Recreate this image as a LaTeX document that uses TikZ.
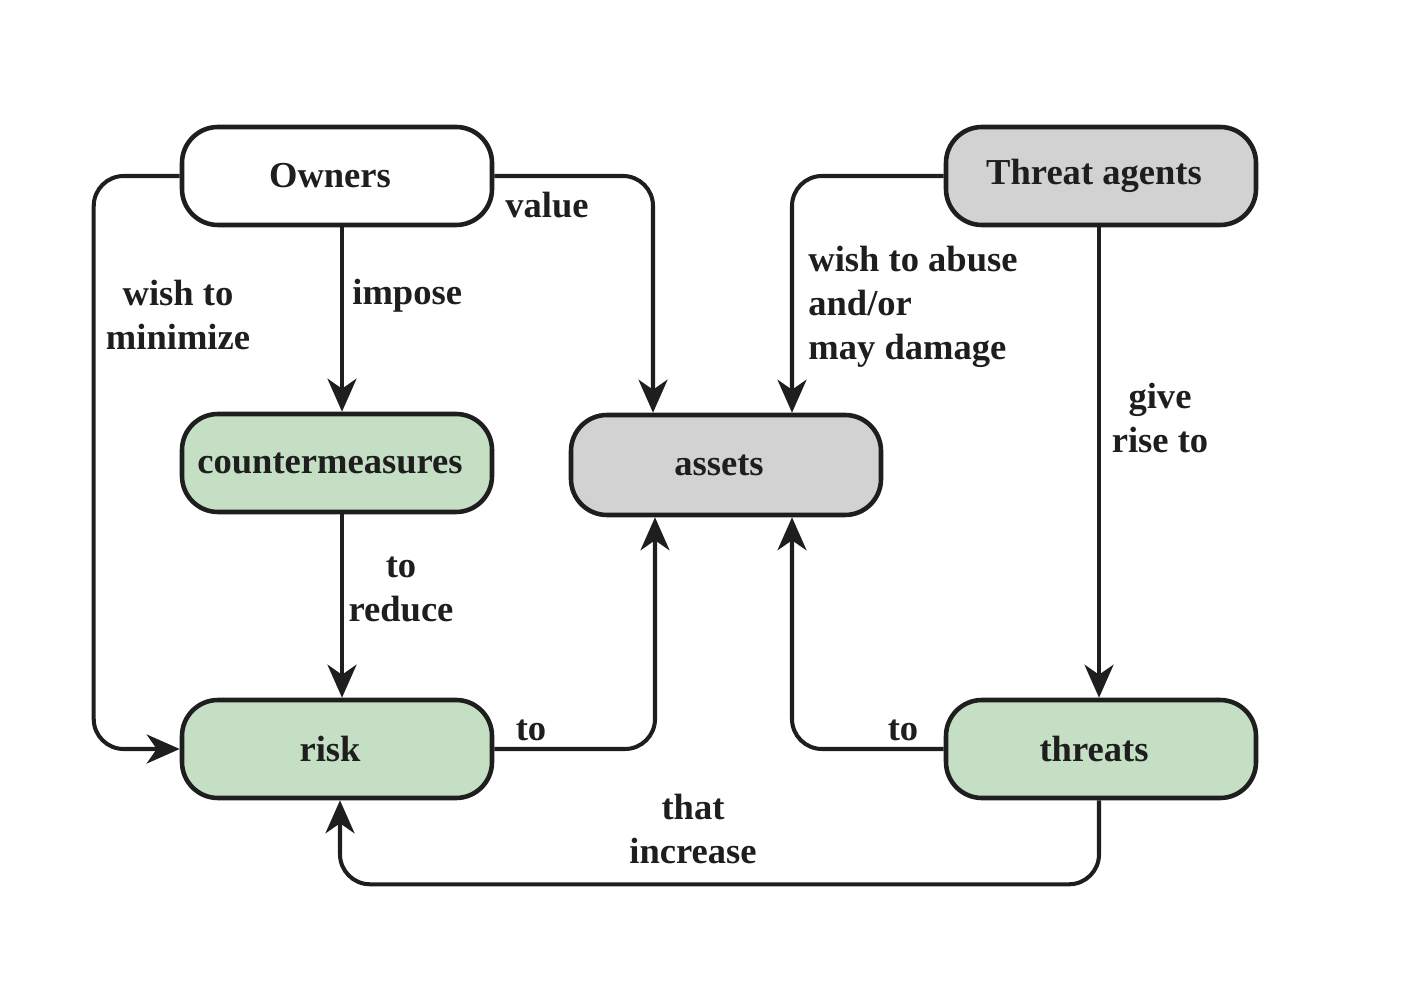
\documentclass[tikz,border=0pt]{standalone}
\usepackage{fontspec}
\setmainfont{Liberation Serif}
\usetikzlibrary{arrows.meta}

\definecolor{boxgreen}{HTML}{C5DFC5}
\definecolor{boxgray}{HTML}{D2D2D2}
\definecolor{inkdark}{HTML}{1E1E1E}

\begin{document}
\begin{tikzpicture}[
   every node/.style={font=\fontsize{20.8}{25}\selectfont\bfseries, text=inkdark},
   box/.style={draw=inkdark, line width=2.6pt, rounded corners=0.72cm,
               minimum width=6.2cm, minimum height=1.96cm, inner sep=0pt,
               execute at begin node=\hspace*{-0.28cm}},
   conn/.style={draw=inkdark, line width=2.3pt, rounded corners=0.6cm,
                -{Stealth[length=0.66cm, width=0.58cm, inset=0.2cm]}},
   lbl/.style={align=center, inner sep=0pt}]
   \useasboundingbox (0,0) rectangle (28.56,20);

   % boxes
   \node[box, fill=white]    (owners)  at (6.74,16.48)  {Owners};
   \node[box, fill=boxgray]  (agents)  at (22.02,16.48) {Threat agents};
   \node[box, fill=boxgreen] (counter) at (6.74,10.74)  {countermeasures};
   \node[box, fill=boxgray, minimum height=2cm] (assets) at (14.52,10.70) {assets};
   \node[box, fill=boxgreen] (risk)    at (6.74,5.02)   {risk};
   \node[box, fill=boxgreen] (threats) at (22.02,5.02)  {threats};

   % connectors
   \draw[conn] (owners.west) -- ++(-1.72,0) |- (risk.west);
   \draw[conn] ([xshift=0.1cm]owners.south) -- ([xshift=0.1cm]counter.north);
   \draw[conn] (owners.east) -| ([xshift=-1.46cm]assets.north);
   \draw[conn] (agents.west) -| ([xshift=1.32cm]assets.north);
   \draw[conn] ([xshift=-0.04cm]agents.south) -- ([xshift=-0.04cm]threats.north);
   \draw[conn] ([xshift=0.1cm]counter.south) -- ([xshift=0.1cm]risk.north);
   \draw[conn] (risk.east) -| ([xshift=-1.42cm]assets.south);
   \draw[conn] (threats.west) -| ([xshift=1.32cm]assets.south);
   \draw[conn] ([xshift=-0.04cm]threats.south) -- ++(0,-1.68) -| ([xshift=0.06cm]risk.south);

   % labels
   \node[lbl] (minimize) at (3.56,13.7) {wish to\\minimize};
   \node[lbl, anchor=west] (impose) at (7.04,14.08) {impose};
   \node[lbl, anchor=west] (value) at (10.1,15.9) {value};
   \node[lbl, anchor=west, align=left] (abuse) at (16.16,13.86) {wish to abuse\\and/or\\may damage};
   \node[lbl] (riseto) at (23.2,11.64) {give\\rise to};
   \node[lbl] (reduce) at (8.02,8.22) {to\\reduce};
   \node[lbl] (torisk) at (10.62,5.4) {to};
   \node[lbl] (tothreat) at (18.06,5.4) {to};
   \node[lbl] (increase) at (13.86,3.42) {that\\increase};
\end{tikzpicture}
\end{document}
